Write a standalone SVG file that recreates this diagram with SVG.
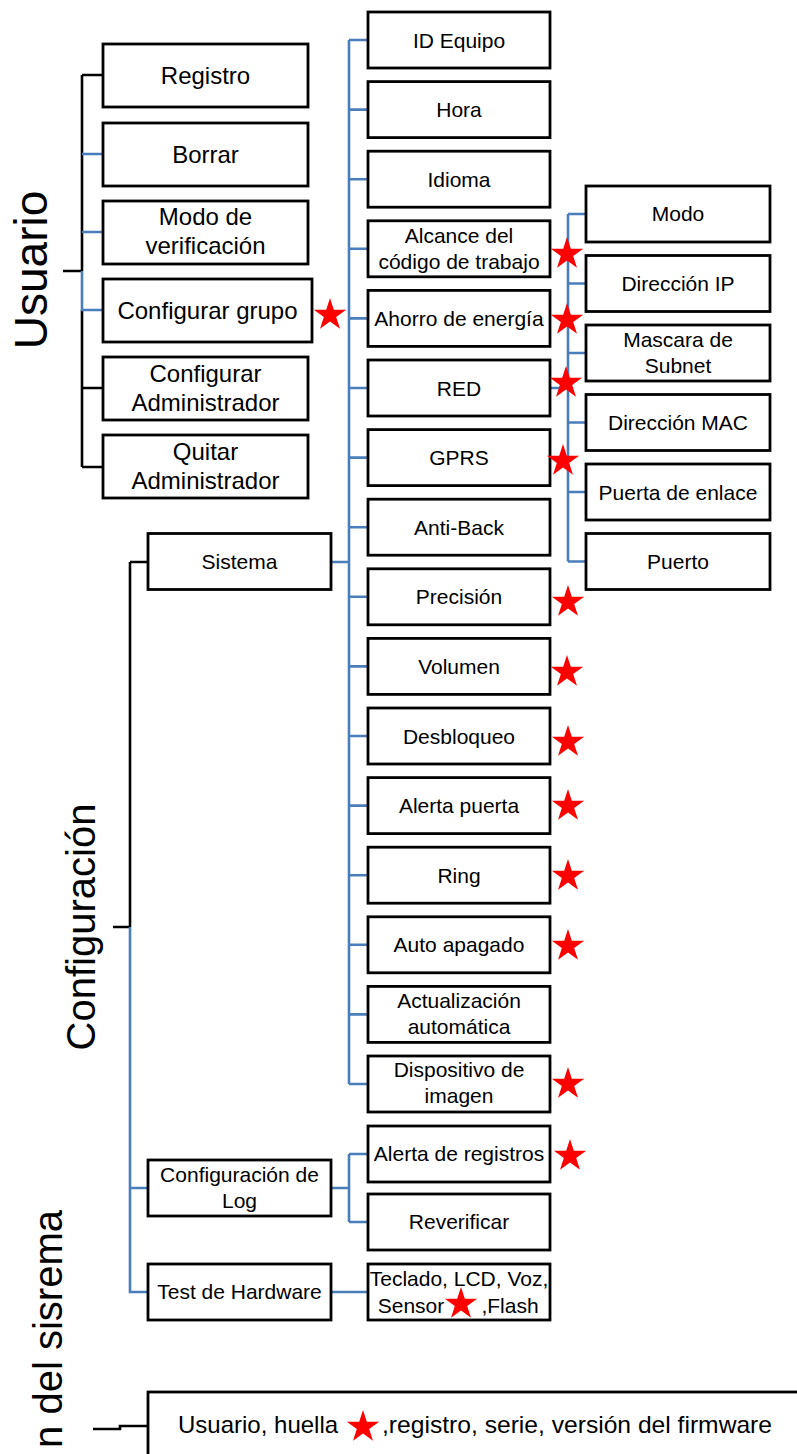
<svg xmlns="http://www.w3.org/2000/svg" xmlns:xlink="http://www.w3.org/1999/xlink" width="797" height="1454" viewBox="0 0 797 1454">
<style>
.box{fill:#fff;stroke:#000;stroke-width:2.8}
.t{font-family:"Liberation Sans",Arial,sans-serif;font-size:21px;fill:#000;text-anchor:middle}
.tu{font-size:24px}
.tb{font-family:"Liberation Sans",Arial,sans-serif;font-size:24px;fill:#000}
.big{font-family:"Liberation Sans",Arial,sans-serif;fill:#000;text-anchor:middle}
.bl{fill:none;stroke:#4A7EBB;stroke-width:2.6}
.bk{fill:none;stroke:#000;stroke-width:2.6}
.star{fill:#FF0000}
</style>
<defs>
<path id="star" d="M0,-17 L3.82,-5.26 L16.17,-5.25 L6.18,2.01 L9.99,13.75 L0,6.5 L-9.99,13.75 L-6.18,2.01 L-16.17,-5.25 L-3.82,-5.26 Z"/>
</defs>
<rect width="797" height="1454" fill="#fff"/>

<!-- vertical section labels -->
<text class="big" font-size="46" transform="translate(47,270) rotate(-90)">Usuario</text>
<text class="big" font-size="40" transform="translate(95,927) rotate(-90)">Configuración</text>
<text class="big" font-size="40" style="text-anchor:end" transform="translate(62,1210) rotate(-90)">n del sisrema</text>

<g id="connectors">
<!-- Usuario bracket -->
<path class="bk" d="M63,271 H82 M82,75 V271 M82,310 V467 M82,75 H103 M82,388 H103 M82,467 H103"/>
<path class="bl" d="M82,271 V310 H103 M82,154 H103 M82,232 H103"/>
<!-- Configuración bracket -->
<path class="bk" d="M113,927 H130 M130,562 V927 M130,562 H148"/>
<path class="bl" d="M130,927 V1292 H148 M130,1188 H148"/>
<!-- Sistema children -->
<path class="bl" d="M331,562 H349 M349,40 V1084 M349,40 H368 M349,109.6 H368 M349,179.2 H368 M349,248.8 H368 M349,318.4 H368 M349,388 H368 M349,457.6 H368 M349,527.2 H368 M349,596.8 H368 M349,666.4 H368 M349,736 H368 M349,805.6 H368 M349,875.2 H368 M349,944.8 H368 M349,1014.4 H368 M349,1084 H368"/>
<!-- RED children -->
<path class="bl" d="M550,388 H568 M568,214 V561.5 M568,214 H586 M568,283.5 H586 M568,353 H586 M568,422.5 H586 M568,492 H586 M568,561.5 H586"/>
<!-- Log children -->
<path class="bl" d="M331,1188 H349 M349,1154 V1222 M349,1154 H368 M349,1222 H368"/>
<!-- Hardware -->
<path class="bl" d="M331,1292 H368"/>
<!-- bottom -->
<path class="bk" d="M93,1429 H120 V1426 H148"/>
</g>

<!-- Usuario column -->
<g id="n-registro"><rect class="box" x="103" y="44" width="205" height="63"/><text class="t tu" x="205.5" y="84">Registro</text></g>
<g id="n-borrar"><rect class="box" x="103" y="123" width="205" height="63"/><text class="t tu" x="205.5" y="163">Borrar</text></g>
<g id="n-modo-verif"><rect class="box" x="103" y="201" width="205" height="63"/><text class="t tu" x="205.5" y="225">Modo de</text><text class="t tu" x="205.5" y="254">verificación</text></g>
<g id="n-config-grupo"><rect class="box" x="103" y="279" width="209" height="63"/><text class="t tu" x="207.5" y="319">Configurar grupo</text></g>
<g id="n-config-admin"><rect class="box" x="103" y="357" width="205" height="63"/><text class="t tu" x="205.5" y="382">Configurar</text><text class="t tu" x="205.5" y="411">Administrador</text></g>
<g id="n-quitar-admin"><rect class="box" x="103" y="435" width="205" height="63"/><text class="t tu" x="205.5" y="460">Quitar</text><text class="t tu" x="205.5" y="489">Administrador</text></g>

<!-- Configuración column -->
<g id="n-sistema"><rect class="box" x="148" y="533.5" width="183" height="56"/><text class="t" x="239.5" y="569">Sistema</text></g>
<g id="n-config-log"><rect class="box" x="148" y="1160" width="183" height="56"/><text class="t" x="239.5" y="1182">Configuración de</text><text class="t" x="239.5" y="1208">Log</text></g>
<g id="n-test-hw"><rect class="box" x="148" y="1264" width="183" height="56"/><text class="t" x="239.5" y="1299">Test de Hardware</text></g>

<!-- Sistema children -->
<g id="n-id-equipo"><rect class="box" x="368" y="12" width="182" height="56"/><text class="t" x="459" y="48">ID Equipo</text></g>
<g id="n-hora"><rect class="box" x="368" y="81.6" width="182" height="56"/><text class="t" x="459" y="117">Hora</text></g>
<g id="n-idioma"><rect class="box" x="368" y="151.2" width="182" height="56"/><text class="t" x="459" y="187">Idioma</text></g>
<g id="n-alcance"><rect class="box" x="368" y="220.8" width="182" height="56"/><text class="t" x="459" y="243">Alcance del</text><text class="t" x="459" y="269">código de trabajo</text></g>
<g id="n-ahorro"><rect class="box" x="368" y="290.4" width="182" height="56"/><text class="t" x="459" y="326">Ahorro de energía</text></g>
<g id="n-red"><rect class="box" x="368" y="360" width="182" height="56"/><text class="t" x="459" y="395.5">RED</text></g>
<g id="n-gprs"><rect class="box" x="368" y="429.6" width="182" height="56"/><text class="t" x="459" y="465">GPRS</text></g>
<g id="n-anti-back"><rect class="box" x="368" y="499.2" width="182" height="56"/><text class="t" x="459" y="534.5">Anti-Back</text></g>
<g id="n-precision"><rect class="box" x="368" y="568.8" width="182" height="56"/><text class="t" x="459" y="604">Precisión</text></g>
<g id="n-volumen"><rect class="box" x="368" y="638.4" width="182" height="56"/><text class="t" x="459" y="674">Volumen</text></g>
<g id="n-desbloqueo"><rect class="box" x="368" y="708" width="182" height="56"/><text class="t" x="459" y="743.5">Desbloqueo</text></g>
<g id="n-alerta-puerta"><rect class="box" x="368" y="777.6" width="182" height="56"/><text class="t" x="459" y="813">Alerta puerta</text></g>
<g id="n-ring"><rect class="box" x="368" y="847.2" width="182" height="56"/><text class="t" x="459" y="882.5">Ring</text></g>
<g id="n-auto-apagado"><rect class="box" x="368" y="916.8" width="182" height="56"/><text class="t" x="459" y="952">Auto apagado</text></g>
<g id="n-actualizacion"><rect class="box" x="368" y="986.4" width="182" height="56"/><text class="t" x="459" y="1008">Actualización</text><text class="t" x="459" y="1034">automática</text></g>
<g id="n-dispositivo"><rect class="box" x="368" y="1056" width="182" height="56"/><text class="t" x="459" y="1077">Dispositivo de</text><text class="t" x="459" y="1103">imagen</text></g>

<!-- RED children -->
<g id="n-modo"><rect class="box" x="586" y="186" width="184" height="56"/><text class="t" x="678" y="221">Modo</text></g>
<g id="n-ip"><rect class="box" x="586" y="255.5" width="184" height="56"/><text class="t" x="678" y="291">Dirección IP</text></g>
<g id="n-mascara"><rect class="box" x="586" y="325" width="184" height="56"/><text class="t" x="678" y="347">Mascara de</text><text class="t" x="678" y="373">Subnet</text></g>
<g id="n-mac"><rect class="box" x="586" y="394.5" width="184" height="56"/><text class="t" x="678" y="430">Dirección MAC</text></g>
<g id="n-puerta-enlace"><rect class="box" x="586" y="464" width="184" height="56"/><text class="t" x="678" y="499.5">Puerta de enlace</text></g>
<g id="n-puerto"><rect class="box" x="586" y="533.5" width="184" height="56"/><text class="t" x="678" y="569">Puerto</text></g>

<!-- Log children -->
<g id="n-alerta-registros"><rect class="box" x="368" y="1126" width="182" height="56"/><text class="t" x="459" y="1161">Alerta de registros</text></g>
<g id="n-reverificar"><rect class="box" x="368" y="1194" width="182" height="56"/><text class="t" x="459" y="1229">Reverificar</text></g>
<g id="n-teclado"><rect class="box" x="368" y="1264" width="182" height="56"/><text class="t" x="459" y="1286">Teclado, LCD, Voz,</text><text class="t" x="411" y="1313">Sensor</text><text class="t" x="510" y="1313">,Flash</text></g>

<!-- bottom info box -->
<g id="n-info"><rect class="box" x="148" y="1392" width="700" height="100"/><text class="tb" x="178" y="1433">Usuario, huella</text><text class="tb" x="382" y="1433" textLength="390" lengthAdjust="spacingAndGlyphs">,registro, serie, versión del firmware</text></g>

<!-- stars -->
<g id="stars" class="star">
<use xlink:href="#star" x="330" y="315"/>
<use xlink:href="#star" x="567" y="254"/>
<use xlink:href="#star" x="567" y="320"/>
<use xlink:href="#star" x="566" y="383"/>
<use xlink:href="#star" x="563" y="461"/>
<use xlink:href="#star" x="568" y="602"/>
<use xlink:href="#star" x="567" y="672"/>
<use xlink:href="#star" x="568" y="742"/>
<use xlink:href="#star" x="568" y="806"/>
<use xlink:href="#star" x="568" y="876"/>
<use xlink:href="#star" x="568" y="946"/>
<use xlink:href="#star" x="568" y="1084"/>
<use xlink:href="#star" x="570" y="1156"/>
<use xlink:href="#star" x="461" y="1304"/>
<use xlink:href="#star" x="363" y="1427"/>
</g>
</svg>
